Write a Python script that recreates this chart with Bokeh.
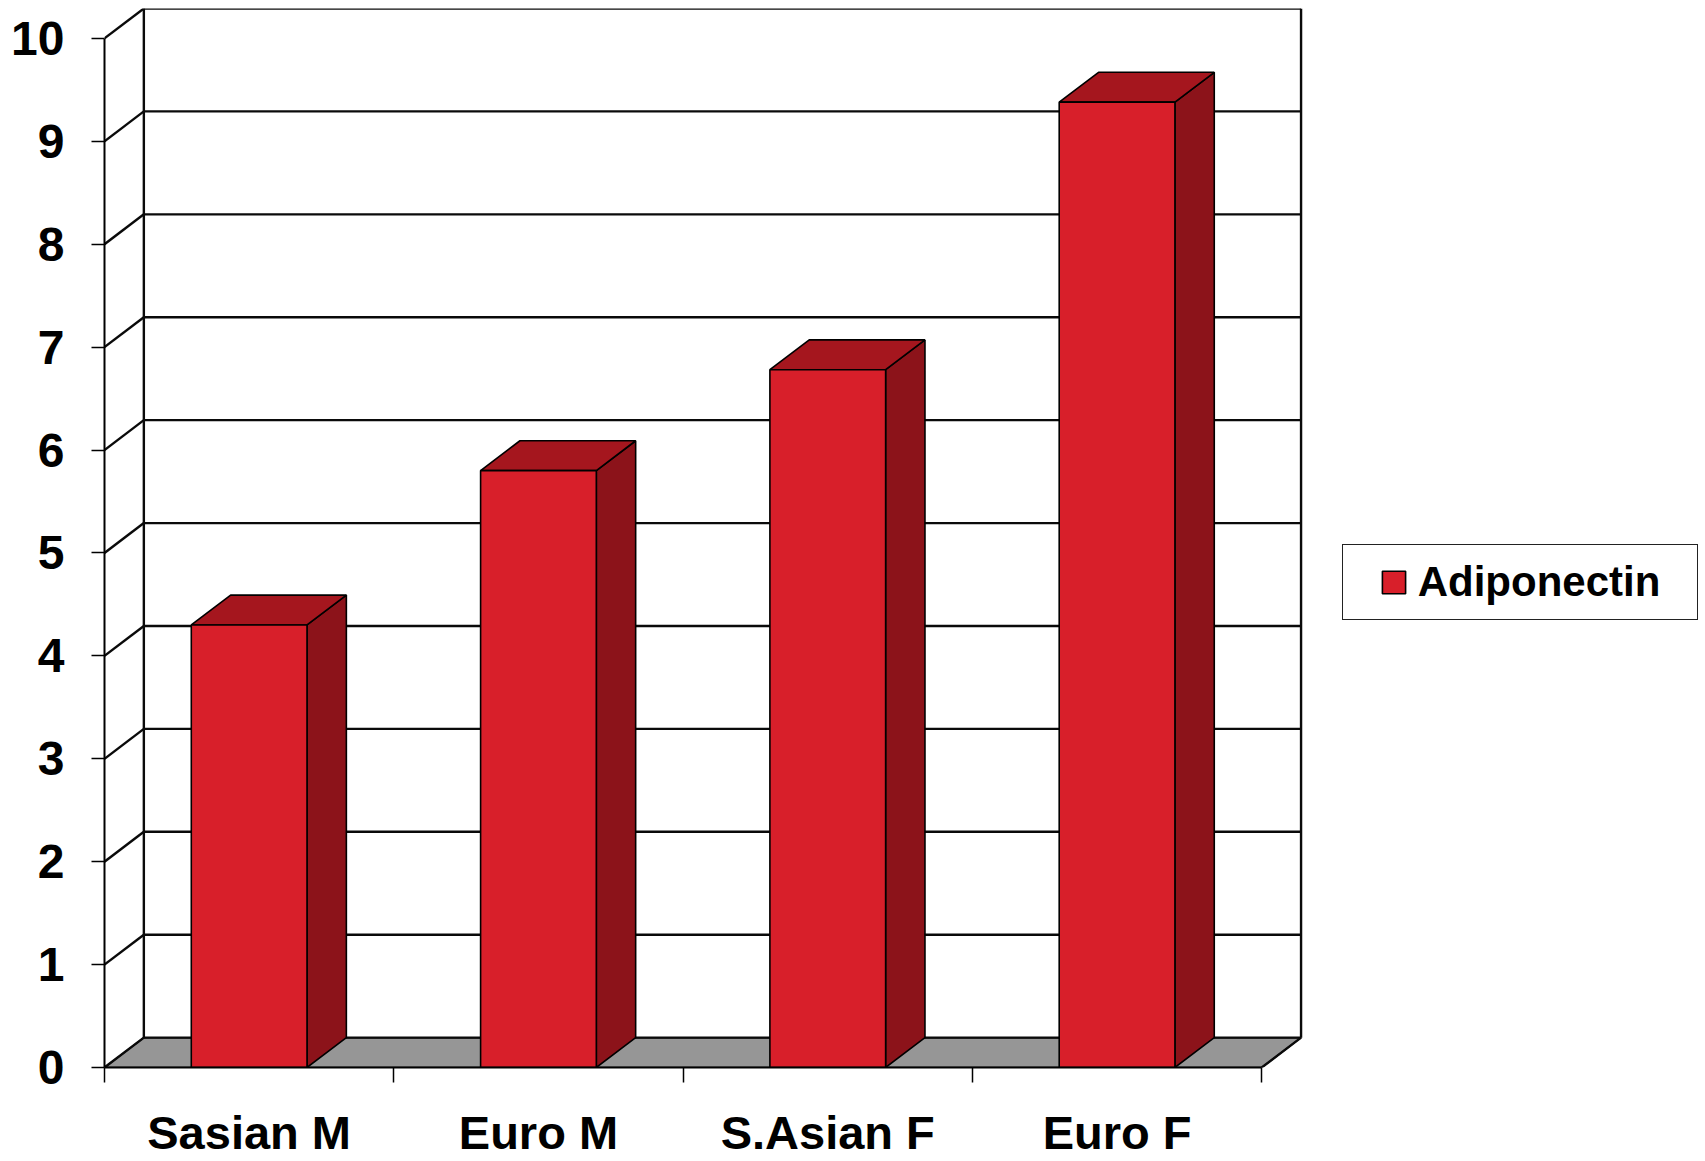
from bokeh.plotting import figure
from bokeh.models import (FixedTicker, Legend, LegendItem, Range1d, LinearAxis,
                          ColumnDataSource)
from bokeh.embed import file_html
from bokeh.resources import INLINE

# ---- data ----
categories = ["Sasian M", "Euro M", "S.Asian F", "Euro F"]
adiponectin = [4.3, 5.8, 6.78, 9.38]
y_ticks = [0, 1, 2, 3, 4, 5, 6, 7, 8, 9, 10]
series_name = "Adiponectin"

# ---- 3D styling constants ----
DX = 0.136   # depth offset in category units
DY = 0.29    # depth offset in value units
BAR_W = 0.4
RIGHT_SPACE = 1.398  # empty room (category units) right of the chart for the legend
n = len(categories)
ymax = y_ticks[-1]

FRONT = "#D81F2A"
TOP = "#A5161E"
SIDE = "#8C131A"
FLOOR = "#969696"
FONT = "Liberation Sans"

p = figure(width=1705, height=1161,
           x_range=Range1d(0, n + DX + RIGHT_SPACE), y_range=Range1d(0, ymax + DY),
           output_backend="svg", toolbar_location=None,
           x_axis_location=None, y_axis_location=None,
           min_border_left=104, min_border_right=0,
           min_border_top=8, min_border_bottom=93)
p.outline_line_color = None
p.xgrid.visible = False
p.ygrid.visible = False

# floor
p.patch(x=[0, n, n + DX, DX], y=[0, 0, DY, DY], fill_color=FLOOR,
        line_color="black", line_width=1.5)

# walls: back gridlines, side diagonals, wall edges
xs, ys = [], []
for k in y_ticks:
    xs.append([DX, n + DX]); ys.append([k + DY, k + DY])
    xs.append([0, DX]); ys.append([k, k + DY])
xs.append([DX, DX]); ys.append([DY, ymax + DY])
xs.append([n + DX, n + DX]); ys.append([DY, ymax + DY])
xs.append([n, n + DX]); ys.append([0, DY])
p.multi_line(xs=xs, ys=ys, line_color="#0a0a0a", line_width=2.4)

# bars
left = [i + 0.5 - BAR_W / 2 for i in range(n)]
right = [i + 0.5 + BAR_W / 2 for i in range(n)]
side_x = [[r, r + DX, r + DX, r] for r in right]
side_y = [[0, DY, v + DY, v] for v in adiponectin]
top_x = [[l, r, r + DX, l + DX] for l, r in zip(left, right)]
top_y = [[v, v, v + DY, v + DY] for v in adiponectin]
p.patches(xs=side_x, ys=side_y, fill_color=SIDE, line_color="black", line_width=1.6)
p.patches(xs=top_x, ys=top_y, fill_color=TOP, line_color="black", line_width=1.6)
src = ColumnDataSource(dict(left=left, right=right, top=adiponectin,
                            bottom=[0] * n))
front = p.quad(left="left", right="right", top="top", bottom="bottom", source=src,
               fill_color=FRONT, line_color="black", line_width=1.6)

# axes
yaxis = LinearAxis(ticker=FixedTicker(ticks=y_ticks), bounds=(0, ymax),
                   axis_line_width=2, axis_line_color="black",
                   major_tick_out=13, major_tick_in=0, major_tick_line_width=1.5,
                   minor_tick_line_color=None, major_label_standoff=27,
                   major_label_text_font=FONT, major_label_text_font_style="bold",
                   major_label_text_font_size="48px", major_label_text_color="black")
p.add_layout(yaxis, "left")

xaxis = LinearAxis(ticker=FixedTicker(ticks=[i + 0.5 for i in range(n)],
                                      minor_ticks=list(range(n + 1))),
                   bounds=(0, n), axis_line_width=2, axis_line_color="black",
                   major_label_overrides={i + 0.5: c for i, c in enumerate(categories)},
                   major_tick_line_color=None, major_tick_out=0, major_tick_in=0,
                   minor_tick_out=15, minor_tick_in=0, minor_tick_line_width=1.5,
                   minor_tick_line_color="black", major_label_standoff=23,
                   major_label_text_font=FONT, major_label_text_font_style="bold",
                   major_label_text_font_size="47px", major_label_text_color="black")
p.add_layout(xaxis, "below")

# legend
legend = Legend(items=[LegendItem(label=series_name, renderers=[front])],
                location=(1237.7, 447), margin=0, spacing=0,
                glyph_width=29, glyph_height=28,
                label_text_font=FONT, label_text_font_style="bold",
                label_text_font_size="42px", label_text_color="black",
                border_line_color="#222222", border_line_width=1.5,
                border_line_alpha=1.0,
                background_fill_color="white", background_fill_alpha=1.0)
try:
    legend.padding = (36, 0, 13, 13)   # left, right, top, bottom
    legend.label_standoff = 10
    legend.label_width = 279
except Exception:
    legend.padding = 13
    legend.label_standoff = 36
    legend.label_width = 266
p.add_layout(legend, "center")

open("out.html", "w").write(file_html(p, INLINE))
